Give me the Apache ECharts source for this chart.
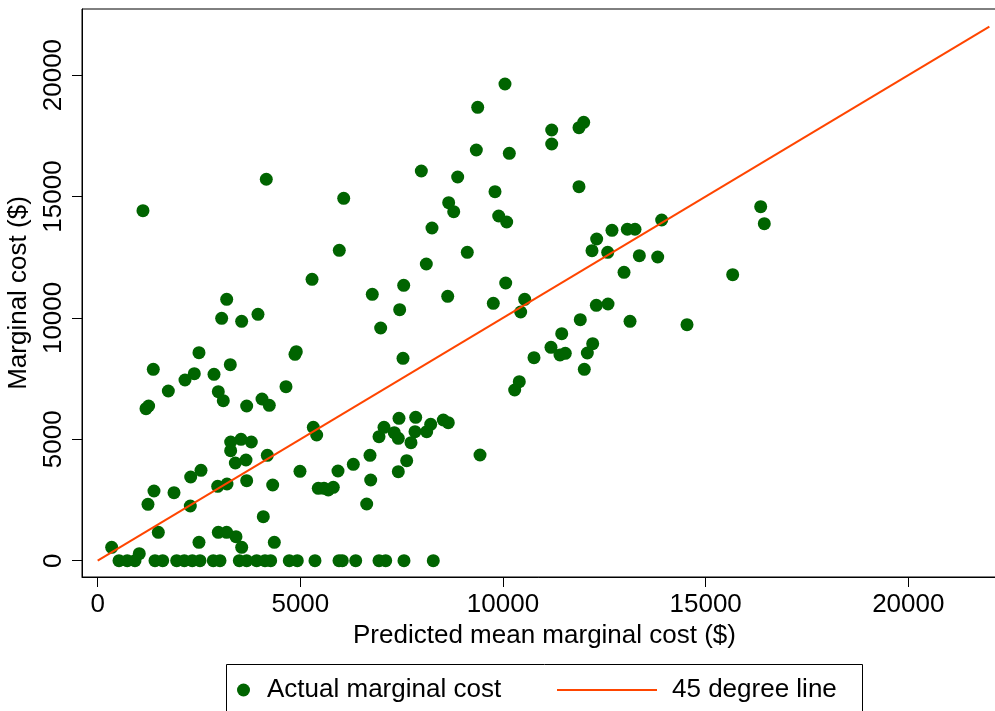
<!DOCTYPE html>
<html><head><meta charset="utf-8">
<script src="https://cdn.jsdelivr.net/npm/echarts@6/dist/echarts.min.js"></script>
<style>html,body{margin:0;padding:0;background:#fff}#c{width:995px;height:711px}</style>
</head><body><div id="c"></div>
<script>
// Actual marginal cost (scatter) — x: predicted mean, y: actual
const actualX = [
 4160,1117,5289,3183,3059,3552,3955,2499,4900,4868,1372,3272,2384,2154,2870,1743,2976,3099,4646,1192,
 1257,3676,4054,4234,5320,5403,3281,3536,3790,3281,3396,3659,4185,4991,5443,2295,2549,1389,1883,1241,
 2285,2961,3190,3676,4318,4086,1496,345,2499,2976,3182,3412,3553,4358,1026,5584,5690,5813,5929,6307,
 6637,6736,6719,6941,7064,7434,7318,7417,7846,7730,7829,8117,8216,8527,8650,7417,7624,9433,10049,9376,
 9342,10156,7985,8882,6070,9803,8660,8784,9894,10091,8248,5961,9119,8108,6775,7550,8636,10067,9761,10535,
 10436,7451,6982,7533,10765,10402,10288,11202,11202,11875,11991,11875,16358,16447,13915,13067,13257,12689,12311,12196,
 12583,13364,13817,12986,15667,11907,12303,12591,13134,14540,11449,11184,11406,11537,12213,12081,12006,
 526,730,920,1414,1604,1949,2137,2334,2524,2852,3018,3494,3676,3923,4128,4268,4727,4925,5361,5954,
 6035,6366,6941,7106,7557,8280
];
const actualY = [
 15710,14415,11590,10766,9983,9860,10148,8567,8608,8500,7883,8072,7702,7443,7677,6989,6960,6590,7166,6260,
 6371,6371,6660,6400,5494,5177,4889,5000,4889,4530,4024,4147,4341,3682,2982,3447,3723,2871,2801,2323,
 2253,3064,3159,3295,3118,1812,1170,552,758,1170,1170,988,552,758,288,2982,2912,3023,3694,3970,
 2335,3324,4341,5107,5494,5865,5272,5041,5906,4860,5313,5313,5618,5795,5684,3666,4119,4353,19633,18673,
 16915,16779,16050,15803,14926,15198,14745,14374,14197,13950,13703,12784,12702,12220,10972,11342,10890,11437,10601,10766,
 10243,10338,9584,8336,8361,7372,7030,17739,17162,17834,18055,15404,14580,13880,14032,13650,13650,13608,13250,12768,
 12702,12562,12508,11878,11780,9926,10519,10573,9860,9720,9349,8789,8472,8542,8937,8554,7883,
 0,0,0,0,0,0,0,0,0,0,0,0,0,0,0,0,0,0,0,0,
 0,0,0,0,0,0
];
// 45 degree line
const lineX = [0, 22000];
const lineY = [0, 22000];
// Axis ticks and labels
const xTicks = [0, 5000, 10000, 15000, 20000];
const yTicks = [0, 5000, 10000, 15000, 20000];
const seriesNames = ['Actual marginal cost', '45 degree line'];
const xTitle = 'Predicted mean marginal cost ($)';
const yTitle = 'Marginal cost ($)';

const FONT = '"Liberation Sans", Arial, Helvetica, sans-serif';
const FS = 26;
const GREEN = '#006400';
const ORANGE = '#ff4500';
const plain = v => String(v);
const chart = echarts.init(document.getElementById('c'), null, {renderer: 'canvas'});
chart.setOption({
  animation: false,
  backgroundColor: '#fff',
  textStyle: {fontFamily: FONT},
  grid: {left: 82, top: 9, width: 925, height: 568, show: true, borderColor: '#000', borderWidth: 1,
         backgroundColor: 'transparent', containLabel: false, outerBoundsMode: 'none'},
  xAxis: {
    type: 'value', min: -387, max: 22435,
    name: xTitle, nameLocation: 'middle', nameGap: 44,
    nameTextStyle: {fontSize: FS, color: '#000', fontFamily: FONT},
    axisLine: {show: true, onZero: false, lineStyle: {color: '#000', width: 1}},
    axisTick: {show: true, length: 10, lineStyle: {color: '#000'}, customValues: xTicks},
    axisLabel: {fontSize: FS, color: '#000', margin: 15, fontFamily: FONT, customValues: xTicks, formatter: plain},
    splitLine: {show: false}
  },
  yAxis: {
    type: 'value', min: -671, max: 22722,
    name: yTitle, nameLocation: 'middle', nameGap: 50,
    nameTextStyle: {fontSize: FS, color: '#000', fontFamily: FONT},
    axisLine: {show: true, onZero: false, lineStyle: {color: '#000', width: 1}},
    axisTick: {show: true, length: 10, lineStyle: {color: '#000'}, customValues: yTicks},
    axisLabel: {fontSize: FS, color: '#000', margin: 15, rotate: 90, fontFamily: FONT, customValues: yTicks, formatter: plain},
    splitLine: {show: false}
  },
  legend: [
    {left: 237, top: 676, padding: 0, itemWidth: 13, itemHeight: 13,
     data: [{name: seriesNames[0], icon: 'circle', itemStyle: {color: GREEN}}],
     textStyle: {fontSize: FS, color: '#000', fontFamily: FONT, lineHeight: 28, padding: [0, 0, 0, 12]}},
    {left: 557, top: 676, padding: 0, itemWidth: 100, itemHeight: 2,
     data: [{name: seriesNames[1], icon: 'rect', itemStyle: {color: ORANGE}}],
     textStyle: {fontSize: FS, color: '#000', fontFamily: FONT, lineHeight: 28, padding: [0, 0, 0, 10]}}
  ],
  graphic: [{type: 'rect', silent: true, shape: {x: 226.5, y: 664.5, width: 636, height: 60},
             style: {fill: 'none', stroke: '#000', lineWidth: 1}}],
  series: [
    {name: seriesNames[0], type: 'scatter', symbol: 'circle', symbolSize: 13,
     itemStyle: {color: GREEN, opacity: 1},
     data: actualX.map((x, i) => [x, actualY[i]])},
    {name: seriesNames[1], type: 'line', symbol: 'none', showSymbol: false,
     lineStyle: {color: ORANGE, width: 2}, itemStyle: {color: ORANGE},
     data: lineX.map((x, i) => [x, lineY[i]])}
  ]
});
</script></body></html>
